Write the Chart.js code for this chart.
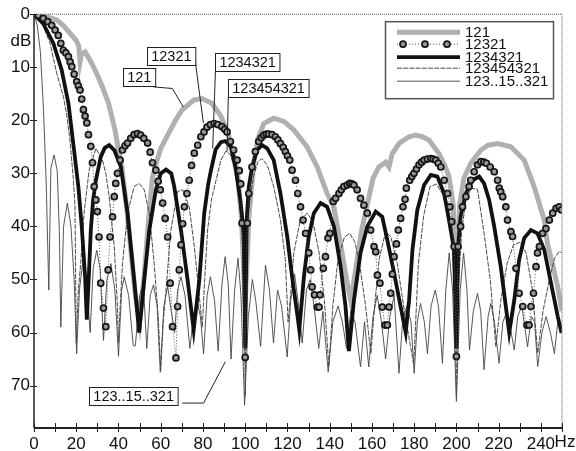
<!DOCTYPE html>
<html>
<head>
<meta charset="utf-8">
<script src="https://cdn.jsdelivr.net/npm/chart.js@4.4.1/dist/chart.umd.min.js"></script>
<style>
  html, body { margin: 0; padding: 0; background: #fff; }
  #wrap { width: 576px; height: 451px; }
</style>
</head>
<body>
<div id="wrap"><canvas id="myChart" width="576" height="451"></canvas></div>
<script>
// [Hz, dB] pairs
const curve121 = [[0,0],[5,0.3],[10.8,1.1],[14,2.2],[17.1,3.6],[20,5],[21.2,6],[21.8,9],[22.5,7.5],[24.2,7.1],[27,9],[29.7,11.2],[32.5,13.8],[35.3,16.8],[38.4,21.9],[40,25.6],[41.6,28.8],[44,37],[46,45],[48,53],[50,58],[52,50],[54,40],[56,31],[57.5,28.5],[60,25.3],[63.7,22.5],[67,20],[70,18.1],[75.6,16.2],[79.5,15.9],[84.2,16.8],[88.2,19],[90.6,21.2],[92.2,23],[94.5,27],[96.5,31],[98.2,38],[100,55],[101.8,38],[104,28],[106,23.5],[108.8,20.6],[113.5,19.6],[118.3,20.2],[123,21.8],[129.3,25],[134.1,28.8],[138.8,33.8],[142,36.3],[145,43],[148,50],[150,54],[152,49],[155,41],[158,35.5],[160.5,31],[163.3,28.8],[166.5,27.9],[168.1,28.8],[169.6,26.3],[173,24.3],[177.6,23.1],[180.7,22.8],[184,23.1],[187,23.7],[191.8,26.3],[194.5,28.5],[196.5,30.6],[198.5,36],[200,52],[201.5,36],[203.5,31],[206.8,28.1],[211.6,25.6],[215,24.7],[219.5,24.4],[225.8,25],[232.1,27.5],[236.8,32.5],[241.6,38.8],[243.1,43.2],[246,48],[248,51.4],[250,56]];

const curve12321 = [[0,0],[2,0.2],[4.4,0.8],[6.5,1.4],[8.4,2.1],[10,3],[11.5,4],[12.7,5.5],[13.9,6.8],[15.1,7.3],[16.3,8],[17.1,9],[17.9,9.9],[19,11.3],[20.2,12.7],[21,13.5],[21.8,14.3],[22.6,16],[23.4,18],[24.2,19.2],[25,20.5],[25.8,22.7],[26.9,24.9],[27.7,28],[28.5,32.5],[29.3,35],[30,37.2],[30.8,42],[31.6,50.7],[32.9,55.4],[34,58.9],[35.1,48.2],[36,42],[37.2,38.2],[38,34.4],[38.7,31.9],[39.5,30],[40.8,27.5],[41.9,25.6],[43.1,24.8],[44.3,24.3],[45.8,23.4],[47.4,22.7],[49,22.5],[50.5,22.8],[52,23.4],[53.8,24.3],[55,26],[56.1,28],[57.7,29.4],[58.8,31.5],[59.8,33.1],[60.9,35.6],[62.1,38.5],[63.3,42],[64.5,50.7],[65.6,58.9],[67.2,64.8],[68,55.1],[68.8,48.2],[69.6,43.5],[70.4,39.5],[71.2,36.3],[72.4,33.8],[73.5,31.3],[74.6,28.5],[75.9,26.2],[77.5,24.7],[79,23.1],[80.5,22.2],[81.9,21.3],[83.5,20.8],[85.3,20.6],[87,20.8],[89,21.2],[90.3,21.7],[91.4,22.2],[93,24],[94.5,25.6],[96.2,27.5],[97.2,29.5],[97.9,32],[98.5,39.4],[100,64.7],[101,39.4],[101.7,33.8],[103.2,28.8],[104.8,25.9],[106.4,24],[107.6,23.3],[108.8,22.8],[110,22.6],[111.1,22.6],[112.7,22.7],[114.3,23.1],[115.5,23.7],[116.7,24.4],[118,25.1],[119,25.9],[120,26.7],[121.1,27.5],[122.2,29.4],[123.8,31.3],[124.9,33.8],[126.2,36.3],[127.4,38.8],[128.6,41.3],[130.1,45],[131,48.2],[131.7,51.4],[132.8,52.9],[134.1,55.2],[135,55.2],[135.4,52.9],[137,47.9],[138,45.7],[139.2,42.2],[140.1,41.3],[141.7,35.3],[142.8,34.7],[144.4,33.8],[145.5,33.1],[146.7,32.5],[148.3,32.2],[149.5,31.9],[150.5,32],[151.5,32.2],[153,33.1],[154.6,34.7],[156.2,36],[157.8,37.5],[159.4,40.7],[161,43.8],[161.8,44.8],[162.6,49.2],[163.8,50.7],[164.9,55.2],[166.2,58.6],[167.3,58.6],[168.1,55.2],[168.9,52.6],[169.7,49],[170.5,45.7],[171.6,43.3],[172.5,40.7],[173.6,38.5],[174.7,36.3],[175.7,34.9],[176.3,32.8],[177.9,31.3],[178.9,30.6],[179.9,30],[181.1,29.2],[182.3,28.4],[183.5,27.9],[184.7,27.5],[186.3,27.3],[187.9,27.2],[189,27.3],[190.2,27.5],[191.4,28.1],[192.6,28.8],[194.2,31.3],[195.8,33.8],[196.9,36.3],[197.8,39.1],[198.9,43.8],[200,64.5],[200.8,43.8],[202,40],[202.9,36.3],[204.5,34.4],[206,32.5],[206.8,31.3],[208.4,29.7],[210,28.4],[211.6,27.8],[213,27.9],[214.2,28.1],[216,28.8],[217.9,29.7],[219.5,31.3],[220.3,32.8],[221,33.5],[221.9,34.4],[223.4,36.3],[224.2,38.8],[225.8,41],[226.6,41.9],[228.2,47.9],[229.7,52.6],[231.4,55.1],[233.4,58.6],[234.4,58.6],[235.3,55.1],[236.5,52.6],[237.7,47.6],[238.4,45],[239.3,43.8],[240.8,41.3],[242.4,40.4],[244,38.8],[245.6,37.5],[247.2,36.6],[248.7,36.3],[249.8,36.9]];

const curve1234321 = [[0,0],[4.4,1.8],[9.2,5.5],[13.1,10.5],[16.3,16.8],[18.6,24.4],[21,32.5],[22.6,40],[24.2,49.5],[25,57.6],[26,49],[26.9,40.7],[28,35],[29.3,31.3],[31.6,26.9],[33.5,25.2],[35.6,24.7],[38,25.6],[41.1,28.7],[44.3,37.5],[47.4,50],[49.8,60],[52.2,50],[54.6,40.7],[57.7,33.1],[60,30],[62.5,29.3],[65,30],[66.4,32.5],[69.6,40.7],[72.7,50],[75.6,59.5],[78.3,50],[80.6,37.5],[82.5,32],[83.8,29.4],[86,25.5],[88.5,24.1],[90.5,23.9],[93.3,25],[95.4,28.8],[97.7,35],[99.3,41.3],[100,63],[100.7,38.8],[101.7,32.5],[103.3,28.8],[105.6,25.6],[108,24.7],[110.4,25.3],[113.5,27.5],[116.7,33.8],[119.9,41.9],[122.2,49.5],[124.6,56.4],[125.6,59.5],[127.8,49.5],[130.1,41.9],[132.5,37.5],[135.7,35.6],[138.8,36.3],[142,40],[145.2,47.6],[147.5,55.1],[149.1,63.5],[151.5,53.9],[154.6,45],[157.8,40],[161.8,37.2],[164.9,38.2],[167.3,42.6],[170.5,48.8],[173.6,55.1],[176,60],[177.6,53.9],[179.2,44.4],[181.5,36.9],[184.7,32.2],[187.9,30.3],[191,30.6],[194.2,33.8],[196.5,38.8],[198.9,44.4],[200,63],[200.8,43.8],[202,38.2],[204.5,33.8],[207.6,31.3],[210.8,30.6],[213.1,31.9],[215.5,35],[217.9,40],[221,47.6],[223.4,55.1],[225,60],[227.4,53.9],[229.7,46.3],[232.1,42.2],[235.3,40.7],[238.4,41.3],[241.6,44.4],[244.8,50.7],[248,57],[249.8,60.1]];

const curve123454321 = [[0,0],[4,1.8],[7.6,5.5],[10.8,11.2],[13.9,15.5],[15.5,19],[17.1,24],[18.6,31],[19.4,36],[20,62],[21,52],[22.1,47],[23.7,37.5],[26.1,29.4],[29.3,25.3],[32.4,27.5],[34,30],[35.6,34.4],[38,43.8],[39.5,55],[40,62],[40.8,55],[41.9,47],[44.3,37.5],[47.4,32.5],[49.8,31.9],[52.2,33.1],[54.6,37.5],[56.9,47],[58.8,57],[60,67],[61.2,58],[62.5,52],[64.8,40.7],[68,33.4],[70.4,33.1],[73.5,36.3],[75.9,43.8],[78,52],[79.7,59],[80.8,50],[82.2,40.7],[84,35],[86.2,31.3],[88.5,27.5],[90.9,25.8],[93,26.5],[95,29],[97,34.5],[98.5,41],[99.5,52],[100,72],[100.5,52],[100.9,40],[102.5,34],[104,30.6],[106,27.8],[108,27.2],[110.5,28.5],[113.5,32.5],[116.7,38.8],[119,46.3],[120.3,58],[121.5,53],[123,45],[126,39],[129.3,37.5],[132,39],[135,45],[137.5,54],[139.6,66.4],[141.5,55],[144,46],[147,42],[149.5,41.3],[152,43],[154.5,48],[157,55],[159.5,64],[161.5,54],[163.5,46],[166.5,41],[169,42],[172,47],[175,55],[178,62],[179.8,66],[182,47],[184.5,38],[187.5,32.5],[190.5,32],[193.3,33.8],[196,37.5],[197.5,41],[199.2,52],[200,72],[200.8,52],[202.5,41],[204.5,35],[207,32.8],[210,33],[213.1,41.3],[216,50],[218.7,62.7],[221,54],[224,47],[227,43.5],[230,43],[233,45],[236,52],[238.5,63.9],[241,56],[244,50],[246.5,46],[248.7,44.7],[250,45]];

const curve15 = [[0,0],[1.5,2],[3,7],[4.5,18],[5.8,32],[7,52],[8,29],[9.5,26.5],[11,29.5],[12,41],[12.7,59],[14,40],[15.8,35.6],[17.5,40],[19,50],[20.2,64],[21.5,52],[23.3,46],[25,51],[26.6,60],[28,48],[29.7,44.5],[31.3,48],[32.9,61.5],[34.5,50],[36.4,47],[38.3,52],[40,64.5],[41.5,52],[42.7,49.5],[44.8,53],[47,62.5],[48,62.5],[50,53],[51.8,51],[53.4,63],[55,53],[56.6,51],[58.3,55],[59.8,67.5],[61.5,55],[63.3,51.3],[65,56],[66.6,60],[68,52],[69.6,49.5],[71.5,53],[73.8,63],[75.5,57],[77.2,54],[78.8,57],[80.3,64],[82,53],[83.5,49.5],[85.5,54],[87.2,63.5],[89,51],[90.5,45.7],[92,51],[93.3,65],[95,52],[96.6,46],[98,53],[99.7,73.7],[101.5,57],[103.4,50],[105,54],[107.3,62.6],[109.6,47.3],[111.5,52],[113.4,62],[115.3,52],[117.2,55],[119.9,64.6],[121.5,54],[123.4,49],[125,54],[127,62],[129,52],[130.8,50],[132.6,55],[134.8,63],[136.8,56],[139.3,67.4],[141.5,58],[144,55],[146,58],[148,63],[150,56],[152,58],[154.6,66.5],[156.5,58],[158.5,66.5],[160.5,57],[162.5,53],[164.5,58],[166.5,65],[168.5,57],[170.5,53],[172.8,67.7],[174.5,58],[176.5,55],[178.5,58],[180,67.7],[181.5,58],[183,54.5],[184.8,58],[186.3,64],[188,55],[190,52],[191.5,55],[193.4,65.8],[195,52],[196.6,45],[198.2,52],[200,73],[201.8,52],[203.4,45],[205,52],[206.2,63.3],[208,56],[210,52.6],[211.5,56],[213.1,67],[215,57],[216.3,54.5],[218,58],[220.2,65.8],[222,58],[224,56],[225.5,59],[227.4,63.3],[229,57],[231,55],[233.7,62.7],[235.5,57],[237,58],[238.5,66.4],[240.5,60],[242.5,57],[244.5,60],[246.4,64],[248,58],[250,60]];

const seriesNames = ['121', '12321', '1234321', '123454321', '123..15..321'];

// boxed labels: top-left corner of the box and leader polyline, in Hz / dB
const callouts = [
  { text: '12321', at: [53.6, 6.2], leader: [[76.4, 9.0], [80.2, 20.5]] },
  { text: '121', at: [42.2, 10.2], leader: [[56.5, 13.7], [65.5, 14.0], [70.7, 17.5]] },
  { text: '1234321', at: [85.9, 7.3], leader: [[85.9, 10.9], [84.6, 25.3]] },
  { text: '123454321', at: [92.0, 12.2], leader: [[92.0, 15.6], [91.4, 25.9]] },
  { text: '123..15..321', at: [26.2, 70.2], leader: [[70.2, 73.3], [80.3, 73.3], [90.6, 65.5]] }
];

const FONT = "'Liberation Sans', Arial, Helvetica, sans-serif";
Chart.defaults.font.family = FONT;
Chart.defaults.color = '#111';

function toPoints(list) {
  return list.map(p => ({ x: p[0], y: p[1] }));
}

const styles = [
  { borderColor: 'rgb(176,176,176)', borderWidth: 5, borderDash: [], pointRadius: 0 },
  { borderColor: '#555', borderWidth: 1, borderDash: [1, 2], pointRadius: 3,
    pointBorderColor: '#161616', pointBackgroundColor: '#9a9a9a', pointBorderWidth: 1.7 },
  { borderColor: '#111', borderWidth: 3.8, borderDash: [], pointRadius: 0 },
  { borderColor: '#4a4a4a', borderWidth: 1, borderDash: [5, 1.2], pointRadius: 0 },
  { borderColor: '#444', borderWidth: 0.9, borderDash: [], pointRadius: 0 }
];

const curves = [curve121, curve12321, curve1234321, curve123454321, curve15];
const drawOrder = [5, 1, 2, 3, 4];

const myDatasets = curves.map((c, i) => Object.assign({
  label: seriesNames[i],
  data: toPoints(c),
  tension: 0,
  fill: false,
  order: drawOrder[i]
}, styles[i]));

const decorations = {
  id: 'decorations',
  afterDraw(chart) {
    const { ctx, chartArea: a, scales: { x, y } } = chart;
    ctx.save();

    // frame: dotted top/right, solid left/bottom axes
    ctx.strokeStyle = '#8a8a8a';
    ctx.lineWidth = 1.5;
    ctx.setLineDash([1, 1]);
    ctx.beginPath();
    ctx.moveTo(a.left, a.top);
    ctx.lineTo(a.right, a.top);
    ctx.lineTo(a.right, a.bottom);
    ctx.stroke();
    ctx.setLineDash([]);
    ctx.strokeStyle = '#222';
    ctx.beginPath();
    ctx.moveTo(a.left, a.top);
    ctx.lineTo(a.left, a.bottom);
    ctx.stroke();
    ctx.lineWidth = 2;
    ctx.beginPath();
    ctx.moveTo(a.left, a.bottom);
    ctx.lineTo(a.right, a.bottom);
    ctx.stroke();

    // tick marks crossing the axes
    ctx.lineWidth = 1;
    ctx.beginPath();
    x.ticks.forEach(t => {
      const px = Math.round(x.getPixelForValue(t.value)) + 0.5;
      ctx.moveTo(px, a.bottom - 5);
      ctx.lineTo(px, a.bottom + 4);
    });
    y.ticks.forEach(t => {
      const py = Math.round(y.getPixelForValue(t.value)) + 0.5;
      ctx.moveTo(a.left - 4, py);
      ctx.lineTo(a.left + 3, py);
    });
    ctx.stroke();

    // unit labels
    ctx.fillStyle = '#111';
    ctx.font = '17px ' + FONT;
    ctx.textBaseline = 'middle';
    ctx.textAlign = 'center';
    ctx.fillText('dB', a.left - 13, y.getPixelForValue(5.2));
    ctx.fillText('Hz', a.right + 3, a.bottom + 14);

    // callout boxes
    ctx.font = '14.5px ' + FONT;
    callouts.forEach(c => {
      const bx = x.getPixelForValue(c.at[0]);
      const by = y.getPixelForValue(c.at[1]);
      const w = ctx.measureText(c.text).width + 8;
      const h = 18;
      ctx.strokeStyle = '#222';
      ctx.lineWidth = 1;
      ctx.beginPath();
      c.leader.forEach((p, k) => {
        const px = x.getPixelForValue(p[0]);
        const py = y.getPixelForValue(p[1]);
        if (k === 0) ctx.moveTo(px, py); else ctx.lineTo(px, py);
      });
      ctx.stroke();
      ctx.fillStyle = '#fff';
      ctx.fillRect(bx, by, w, h);
      ctx.strokeRect(Math.round(bx) + 0.5, Math.round(by) + 0.5, w, h);
      ctx.fillStyle = '#111';
      ctx.textAlign = 'left';
      ctx.fillText(c.text, bx + 4, by + h / 2 + 1);
    });

    // legend
    const lx = a.right - 177, ly = a.top + 7, lw = 168, lh = 77;
    ctx.fillStyle = '#fff';
    ctx.fillRect(lx, ly, lw, lh);
    ctx.strokeStyle = '#555';
    ctx.lineWidth = 1.5;
    ctx.strokeRect(lx + 0.5, ly + 0.5, lw, lh);
    const rows = [11, 23, 36, 47, 60];
    const x0 = lx + 12, x1 = lx + 75;
    myDatasets.forEach((ds, i) => {
      const ry = ly + rows[i];
      ctx.strokeStyle = ds.borderColor;
      ctx.lineWidth = ds.borderWidth;
      ctx.setLineDash(ds.borderDash);
      ctx.beginPath();
      ctx.moveTo(x0, ry);
      ctx.lineTo(x1, ry);
      ctx.stroke();
      ctx.setLineDash([]);
      if (ds.pointRadius > 0) {
        [x0 + 6, x0 + 28, x0 + 50].forEach(cx => {
          ctx.beginPath();
          ctx.arc(cx, ry, ds.pointRadius, 0, Math.PI * 2);
          ctx.fillStyle = ds.pointBackgroundColor;
          ctx.fill();
          ctx.lineWidth = ds.pointBorderWidth;
          ctx.strokeStyle = ds.pointBorderColor;
          ctx.stroke();
        });
      }
      ctx.fillStyle = '#111';
      ctx.font = '15px ' + FONT;
      ctx.textAlign = 'left';
      ctx.fillText(ds.label, x1 + 5, ry + 1);
    });

    ctx.restore();
  }
};

const myChart = new Chart(document.getElementById('myChart'), {
  type: 'line',
  data: { datasets: myDatasets },
  options: {
    responsive: false,
    animation: false,
    devicePixelRatio: 1,
    layout: { padding: { top: 14, right: 14, left: 0, bottom: 0 } },
    plugins: { legend: { display: false }, tooltip: { enabled: false } },
    scales: {
      x: {
        type: 'linear',
        min: 0,
        max: 250,
        grid: { display: false, drawTicks: false },
        border: { display: false },
        ticks: {
          stepSize: 10,
          autoSkip: false,
          maxRotation: 0,
          padding: 6,
          font: { size: 17 },
          callback: v => (v % 20 === 0 && v <= 240) ? String(v) : ''
        },
        afterFit: s => { s.height = 23; }
      },
      y: {
        reverse: true,
        min: 0,
        max: 78,
        grid: { display: false, drawTicks: false },
        border: { display: false },
        ticks: {
          stepSize: 10,
          includeBounds: false,
          padding: 4,
          font: { size: 17 },
          callback: v => String(v)
        },
        afterFit: s => { s.width = 34; }
      }
    }
  },
  plugins: [decorations]
});
</script>
</body>
</html>
